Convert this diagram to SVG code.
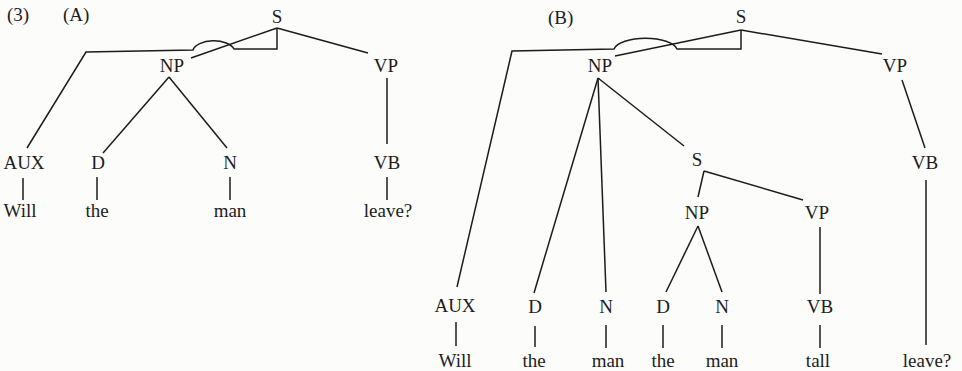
<svg xmlns="http://www.w3.org/2000/svg" width="962" height="371" viewBox="0 0 962 371">
<style>
text{font-family:"Liberation Serif","Times New Roman",serif;font-size:19px;fill:#1c1c1c;text-anchor:middle}
.l{text-anchor:start}
#connectors path{fill:none;stroke:#1c1c1c;stroke-width:1.5;stroke-linejoin:miter}
</style>
<rect width="962" height="371" fill="#fcfcfb"/>
<g id="labels">
<text class="l" x="7" y="21">(3)</text>
<text class="l" x="63" y="21">(A)</text>
<text class="l" x="548" y="24">(B)</text>
</g>
<g id="connectors">
<path d="M277 28 L368 53"/>
<path d="M277 28 L191 58"/>
<path d="M277 28 V49 H234 A21 11 0 0 0 193 50 L86 52 L27 148"/>
<path d="M169 77 L103 153"/>
<path d="M169 77 L227 148"/>
<path d="M387 78 V144"/>
<path d="M23 178 V200"/>
<path d="M97 177 V200"/>
<path d="M230 177 V200"/>
<path d="M387 177 V200"/>
<path d="M741 30 L882 54"/>
<path d="M741 30 L615 56"/>
<path d="M741 30 V49 H677 A32 13 0 0 0 614 49 L512 51 L457 287"/>
<path d="M598 78 L534 293"/>
<path d="M598 78 L606 292"/>
<path d="M598 78 L684 146"/>
<path d="M704 171 L698 197"/>
<path d="M704 171 L803 200"/>
<path d="M698 226 L666 292"/>
<path d="M698 226 L722 292"/>
<path d="M820 227 V294"/>
<path d="M902 80 L925 148"/>
<path d="M926 180 V345"/>
<path d="M456 322 V346"/>
<path d="M535 326 V347"/>
<path d="M606 325 V348"/>
<path d="M663 325 V348"/>
<path d="M722 325 V348"/>
<path d="M820 325 V348"/>
</g>
<g id="A_S"><text x="277" y="23">S</text></g>
<g id="A_NP"><text x="172" y="72">NP</text></g>
<g id="A_VP"><text x="386" y="72">VP</text></g>
<g id="A_AUX"><text x="24" y="169">AUX</text></g>
<g id="A_D"><text x="98" y="169">D</text></g>
<g id="A_N"><text x="230" y="169">N</text></g>
<g id="A_VB"><text x="387" y="169">VB</text></g>
<g id="A_Will"><text x="20" y="217">Will</text></g>
<g id="A_the"><text x="97" y="217">the</text></g>
<g id="A_man"><text x="230" y="217">man</text></g>
<g id="A_leave"><text x="388" y="217">leave?</text></g>
<g id="B_S"><text x="741" y="23">S</text></g>
<g id="B_NP"><text x="600" y="72">NP</text></g>
<g id="B_VP"><text x="895" y="72">VP</text></g>
<g id="B_VB"><text x="925" y="169">VB</text></g>
<g id="B_S2"><text x="697" y="166">S</text></g>
<g id="B_NP2"><text x="697" y="219">NP</text></g>
<g id="B_VP2"><text x="817" y="219">VP</text></g>
<g id="B_AUX"><text x="455" y="312">AUX</text></g>
<g id="B_D1"><text x="535" y="313">D</text></g>
<g id="B_N1"><text x="606" y="313">N</text></g>
<g id="B_D2"><text x="663" y="313">D</text></g>
<g id="B_N2"><text x="722" y="313">N</text></g>
<g id="B_VB2"><text x="820" y="313">VB</text></g>
<g id="B_Will"><text x="455" y="367">Will</text></g>
<g id="B_the1"><text x="534" y="367">the</text></g>
<g id="B_man1"><text x="608" y="367">man</text></g>
<g id="B_the2"><text x="663" y="367">the</text></g>
<g id="B_man2"><text x="722" y="367">man</text></g>
<g id="B_tall"><text x="818" y="367">tall</text></g>
<g id="B_leave"><text x="927" y="367">leave?</text></g>
</svg>
